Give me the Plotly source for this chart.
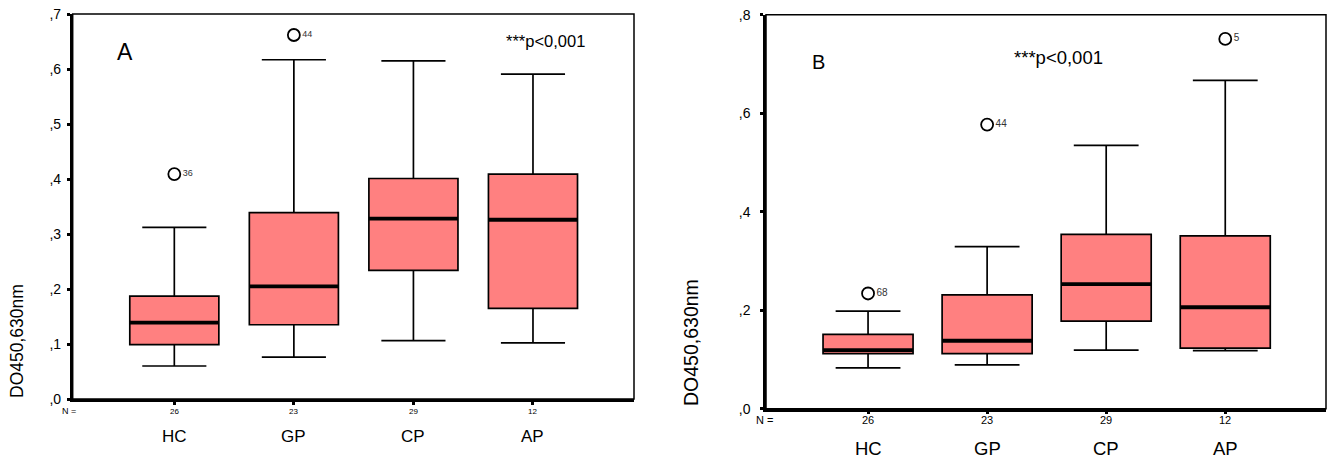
import plotly.graph_objects as go

W, H = 1333, 461

categories = ["HC", "GP", "CP", "AP"]
counts = ["26", "23", "29", "12"]

# Panel A
a_lower = [0.060, 0.076, 0.106, 0.102]
a_q1 = [0.099, 0.135, 0.234, 0.165]
a_median = [0.139, 0.205, 0.328, 0.326]
a_q3 = [0.187, 0.339, 0.401, 0.409]
a_upper = [0.312, 0.617, 0.615, 0.591]
a_out_cat = [0, 1]
a_out_val = [0.409, 0.662]
a_out_lab = ["36", "44"]
a_ticks = [0.0, 0.1, 0.2, 0.3, 0.4, 0.5, 0.6, 0.7]

# Panel B
b_lower = [0.083, 0.089, 0.119, 0.118]
b_q1 = [0.112, 0.112, 0.178, 0.123]
b_median = [0.119, 0.138, 0.253, 0.206]
b_q3 = [0.151, 0.231, 0.354, 0.351]
b_upper = [0.198, 0.329, 0.535, 0.667]
b_out_cat = [0, 1, 3]
b_out_val = [0.234, 0.577, 0.751]
b_out_lab = ["68", "44", "5"]
b_ticks = [0.0, 0.2, 0.4, 0.6, 0.8]

FILL = "rgb(255,128,128)"
FONT = "Liberation Sans, Arial, sans-serif"

fig = go.Figure()

def add_panel(xa, ya, lower, q1, med, q3, upper, oc, ov, ol, bw, lab_size):
    xs = list(range(len(categories)))
    fig.add_trace(go.Box(
        x=xs, q1=q1, median=med, q3=q3, lowerfence=lower, upperfence=upper,
        width=bw, whiskerwidth=0.72, fillcolor=FILL,
        line=dict(color="black", width=1.7), boxpoints=False,
        xaxis=xa, yaxis=ya, showlegend=False, hoverinfo="skip"))
    mx, my = [], []
    for i, m in enumerate(med):
        mx += [i - bw / 2, i + bw / 2, None]
        my += [m, m, None]
    fig.add_trace(go.Scatter(x=mx, y=my, mode="lines",
                             line=dict(color="black", width=3.8),
                             xaxis=xa, yaxis=ya, showlegend=False, hoverinfo="skip"))
    fig.add_trace(go.Scatter(
        x=oc, y=ov, mode="markers+text", text=ol, textposition="middle right",
        textfont=dict(family=FONT, size=lab_size, color="#333"),
        marker=dict(symbol="circle-open", size=12, color="black", line=dict(width=1.8)),
        xaxis=xa, yaxis=ya, showlegend=False, hoverinfo="skip"))

add_panel("x", "y", a_lower, a_q1, a_median, a_q3, a_upper,
          a_out_cat, a_out_val, a_out_lab, 0.745, 9)
add_panel("x2", "y2", b_lower, b_q1, b_median, b_q3, b_upper,
          b_out_cat, b_out_val, b_out_lab, 0.756, 10)

def px_x(p):
    return min(max(p / W, 0.0), 1.0)

def px_y(p):
    return min(max(1 - p / H, 0.0), 1.0)

axis_common = dict(showgrid=False, zeroline=False, showline=True, linecolor="black",
                   linewidth=2.5, ticks="outside", ticklen=3, tickwidth=3,
                   tickcolor="black", automargin=False)

fig.update_layout(
    width=W, height=H, margin=dict(l=0, r=0, t=0, b=0, autoexpand=False),
    paper_bgcolor="white", plot_bgcolor="white",
    font=dict(family=FONT, color="black"),
    xaxis=dict(domain=[px_x(72.7), px_x(634)], range=[-0.85, 3.845],
               tickvals=list(range(4)), ticktext=["", "", "", ""], anchor="y", **axis_common),
    yaxis=dict(domain=[px_y(399), px_y(14)], range=[0, 0.7002], tickvals=a_ticks,
               ticktext=[",%d" % round(v * 10) for v in a_ticks], ticklabelstandoff=3,
               ticklabeloverflow="allow",
               tickfont=dict(size=14, family=FONT), anchor="x", **axis_common),
    xaxis2=dict(domain=[px_x(766), px_x(1326)], range=[-0.857, 3.846],
                tickvals=list(range(4)), ticktext=["", "", "", ""], anchor="y2", **axis_common),
    yaxis2=dict(domain=[px_y(408.7), px_y(14.7)], range=[0, 0.8002], tickvals=b_ticks,
                ticktext=[",%d" % round(v * 10) for v in b_ticks], ticklabelstandoff=7,
                ticklabeloverflow="allow",
                tickfont=dict(size=14, family=FONT), anchor="x2", **axis_common),
)

for xr, yr in [("x domain", "y domain"), ("x2 domain", "y2 domain")]:
    fig.add_shape(type="rect", xref=xr, yref=yr, x0=0, x1=1, y0=0, y1=1,
                  line=dict(color="black", width=1.5), layer="above")

ann = []
for i, (c, n) in enumerate(zip(categories, counts)):
    ann.append(dict(x=i, xref="x", y=px_y(411), yref="paper", text=n, showarrow=False,
                    font=dict(size=8, family=FONT), xanchor="center", yanchor="middle"))
    ann.append(dict(x=i, xref="x", y=px_y(436), yref="paper", text=c, showarrow=False,
                    font=dict(size=17, family=FONT), xanchor="center", yanchor="middle"))
    ann.append(dict(x=i, xref="x2", y=px_y(420), yref="paper", text=n, showarrow=False,
                    font=dict(size=11, family=FONT), xanchor="center", yanchor="middle"))
    ann.append(dict(x=i, xref="x2", y=px_y(448), yref="paper", text=c, showarrow=False,
                    font=dict(size=18.5, family=FONT), xanchor="center", yanchor="middle"))

ann += [
    dict(x=px_x(69), y=px_y(411), xref="paper", yref="paper", text="N =", showarrow=False,
         font=dict(size=9, family=FONT), xanchor="center", yanchor="middle"),
    dict(x=px_x(764), y=px_y(420), xref="paper", yref="paper", text="N =", showarrow=False,
         font=dict(size=11, family=FONT), xanchor="center", yanchor="middle"),
    dict(x=px_x(124.5), y=px_y(52), xref="paper", yref="paper", text="A", showarrow=False,
         font=dict(size=23, family=FONT), xanchor="center", yanchor="middle"),
    dict(x=px_x(818), y=px_y(62), xref="paper", yref="paper", text="B", showarrow=False,
         font=dict(size=20, family=FONT), xanchor="center", yanchor="middle"),
    dict(x=px_x(545), y=px_y(41), xref="paper", yref="paper", text="***p<0,001", showarrow=False,
         font=dict(size=16.5, family=FONT), xanchor="center", yanchor="middle"),
    dict(x=px_x(1058), y=px_y(57), xref="paper", yref="paper", text="***p<0,001", showarrow=False,
         font=dict(size=18.5, family=FONT), xanchor="center", yanchor="middle"),
    dict(x=px_x(17), y=px_y(341), xref="paper", yref="paper", text="DO450,630nm", showarrow=False,
         textangle=-90, font=dict(size=17.5, family=FONT), xanchor="center", yanchor="middle"),
    dict(x=px_x(691), y=px_y(343), xref="paper", yref="paper", text="DO450,630nm", showarrow=False,
         textangle=-90, font=dict(size=19.5, family=FONT), xanchor="center", yanchor="middle"),
]
fig.update_layout(annotations=ann)

fig.write_html("out.html", config={"displayModeBar": False},
               post_script="document.body.style.margin='0';document.body.style.overflow='hidden';")
